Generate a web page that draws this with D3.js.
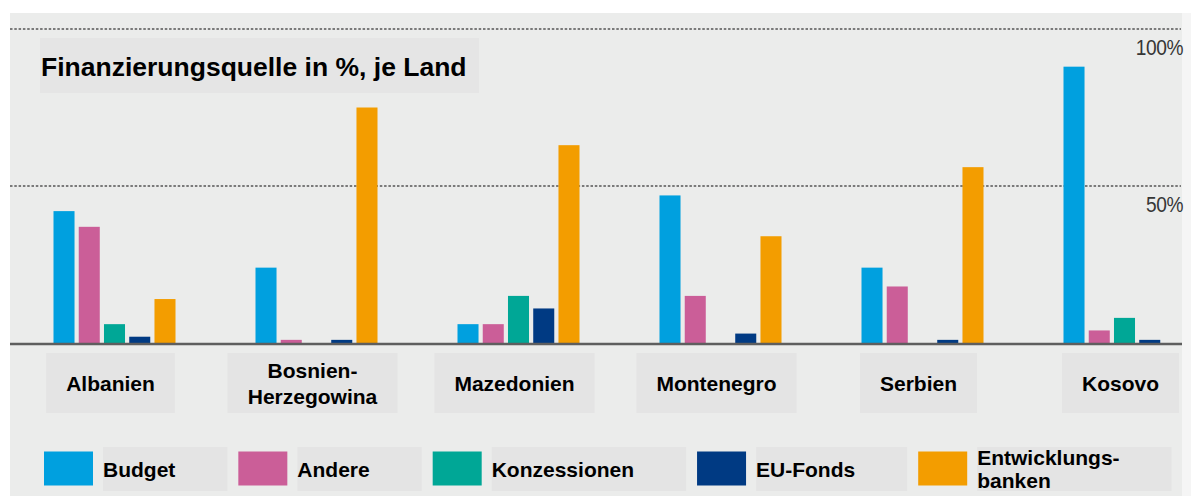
<!DOCTYPE html>
<html>
<head>
<meta charset="utf-8">
<script src="https://cdn.jsdelivr.net/npm/d3@7"></script>
<style>
    body { margin: 0; background: #fff; }
    svg { display: block; }
</style>
</head>
<body>
<div id="graph"></div>
<script>
// data (share in %, per country)
var countries = ['Albanien', 'Bosnien-\nHerzegowina', 'Mazedonien', 'Montenegro', 'Serbien', 'Kosovo'];
var seriesNames = ['Budget', 'Andere', 'Konzessionen', 'EU-Fonds', 'Entwicklungs-\nbanken'];
var budget = [42, 24, 6, 47, 24, 88];
var andere = [37, 1, 6, 15, 18, 4];
var konzessionen = [6, 0, 15, 0, 0, 8];
var euFonds = [2, 1, 11, 3, 1, 1];
var entwicklungsbanken = [14, 75, 63, 34, 56, 0];
var gridTicks = [50, 100];
var tickLabels = ['50%', '100%'];
var title = 'Finanzierungsquelle in %, je Land';

var colors = ['#00a0df', '#cb5e98', '#00a796', '#003a83', '#f39d00'];
var seriesValues = [budget, andere, konzessionen, euFonds, entwicklungsbanken];

var width = 1191,
    height = 496;
var font = "'Liberation Sans', Arial, sans-serif";

var svg = d3.select('#graph')
    .append('svg')
        .attr('width', width)
        .attr('height', height);

// panel
svg.append('rect')
    .attr('x', 1182).attr('y', 13)
    .attr('width', 9).attr('height', height - 13)
    .style('fill', '#f5f5f5');
svg.append('rect')
    .attr('x', 10).attr('y', 13)
    .attr('width', 1172).attr('height', height - 13)
    .style('fill', '#ebeceb');

var x0 = d3.scaleBand()
    .domain(countries)
    .range([13.5, 1225.5])
    .paddingInner(0.396)
    .paddingOuter(0.198);

var x1 = d3.scaleBand()
    .domain(seriesNames)
    .range([0, x0.bandwidth()])
    .paddingInner(0.167);

var y = d3.scaleLinear()
    .domain([0, 100])
    .range([343, 29]);

// dotted grid + labels
svg.append('g')
    .selectAll('line')
    .data(gridTicks).enter().append('line')
    .attr('x1', 10)
    .attr('x2', 1181)
    .attr('y1', function(d) { return y(d); })
    .attr('y2', function(d) { return y(d); })
    .style('stroke', '#7a7a7a')
    .style('stroke-width', 2)
    .style('stroke-dasharray', '2.5,1.8');

svg.append('g')
    .selectAll('text')
    .data(gridTicks).enter().append('text')
    .attr('transform', function(d) { return 'translate(1183,' + (y(d) + 25.5) + ') scale(0.87,1)'; })
    .attr('text-anchor', 'end')
    .style('font-family', font)
    .style('font-size', '22px')
    .style('letter-spacing', '-0.5px')
    .style('fill', '#363636')
    .text(function(d, i) { return tickLabels[i]; });

// title
svg.append('rect')
    .attr('x', 40).attr('y', 38)
    .attr('width', 439).attr('height', 55)
    .style('fill', '#e5e5e5');
svg.append('text')
    .attr('x', 41)
    .attr('y', 76)
    .style('font-family', font)
    .style('font-weight', 'bold')
    .style('font-size', '26.5px')
    .style('fill', '#000')
    .text(title);

// bars
var groups = svg.append('g')
    .selectAll('g')
    .data(countries).enter().append('g')
    .attr('transform', function(d) { return 'translate(' + x0(d) + ',0)'; });

groups.selectAll('rect')
    .data(function(d, i) {
        return seriesNames.map(function(s, j) { return { key: s, value: seriesValues[j][i], color: colors[j] }; });
    })
    .enter().append('rect')
    .attr('x', function(d) { return x1(d.key); })
    .attr('y', function(d) { return y(d.value); })
    .attr('width', x1.bandwidth())
    .attr('height', function(d) { return y(0) - y(d.value); })
    .style('fill', function(d) { return d.color; });

// baseline
svg.append('line')
    .attr('x1', 10).attr('x2', 1182)
    .attr('y1', y(0) + 1).attr('y2', y(0) + 1)
    .style('stroke', '#5e5e5e')
    .style('stroke-width', 2.6);

// country labels
var labels = svg.append('g')
    .selectAll('g')
    .data(countries).enter().append('g');

labels.each(function(d) {
    var g = d3.select(this);
    var cx = x0(d) + x0.bandwidth() / 2 - 4;
    var lines = d.split('\n');
    var box = g.append('rect');
    var t = g.append('text')
        .attr('text-anchor', 'middle')
        .style('font-family', font)
        .style('font-weight', 'bold')
        .style('font-size', '21px')
        .style('fill', '#000');
    var y0 = lines.length > 1 ? 378 : 391;
    lines.forEach(function(l, k) {
        t.append('tspan')
            .attr('x', cx)
            .attr('y', y0 + k * 26)
            .text(l);
    });
    var w = t.node().getBBox().width + 40;
    box.attr('x', cx - w / 2).attr('y', 353)
        .attr('width', w).attr('height', 60)
        .style('fill', '#e4e4e4');
});

// LEGEND -----------------------------------------------------------------------------
var legend = svg.append('g');
var lx = 44;
seriesNames.forEach(function(s, j) {
    legend.append('rect')
        .attr('x', lx).attr('y', 451.5)
        .attr('width', 49).attr('height', 34)
        .style('fill', colors[j]);
    var box = legend.append('rect');
    var tx = lx + 59;
    var t = legend.append('text')
        .style('font-family', font)
        .style('font-weight', 'bold')
        .style('font-size', '21px')
        .style('fill', '#000');
    var lines = s.split('\n');
    var ty = lines.length > 1 ? 465 : 477;
    lines.forEach(function(l, k) {
        t.append('tspan')
            .attr('x', tx)
            .attr('y', ty + k * 23)
            .text(l);
    });
    var w = t.node().getBBox().width + 52;
    box.attr('x', tx).attr('y', 447)
        .attr('width', w).attr('height', 44)
        .style('fill', '#e4e4e4');
    lx = tx + w + 11;
});
</script>
</body>
</html>
